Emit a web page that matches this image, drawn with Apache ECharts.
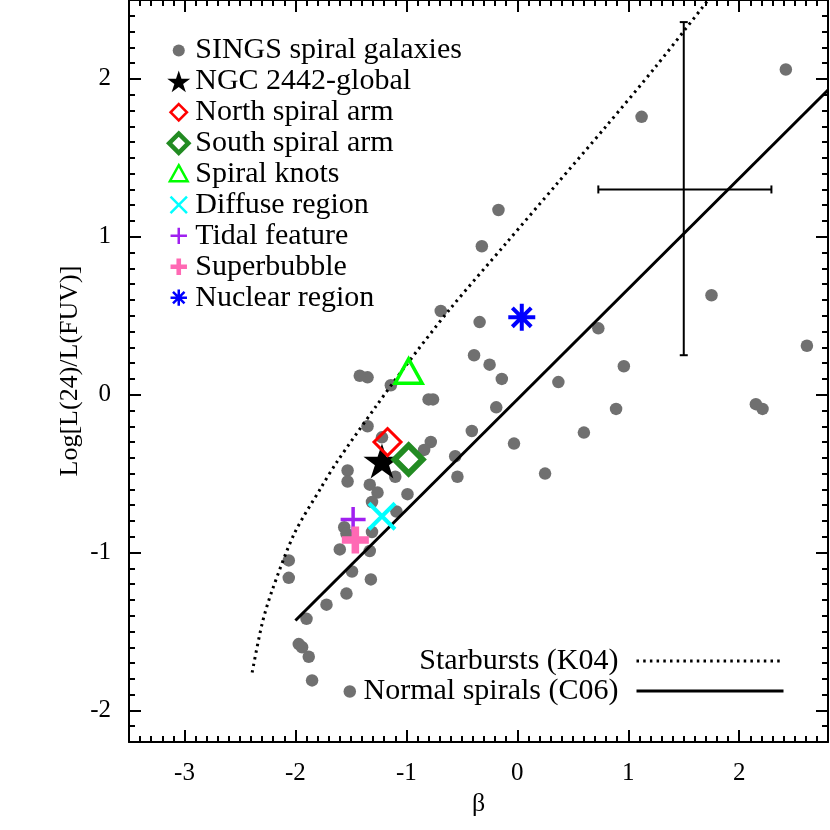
<!DOCTYPE html>
<html>
<head>
<meta charset="utf-8">
<script src="https://cdn.jsdelivr.net/npm/echarts@6/dist/echarts.min.js"></script>
<style>
  html, body { margin: 0; padding: 0; background: #fff; }
  #chart { width: 830px; height: 830px; }
</style>
</head>
<body>
<div id="chart"></div>
<script>
// SINGS spiral galaxies (beta, log L24/LFUV)
const singsX = [2.42, 1.12, 1.75, 2.61, -0.17, -0.32, 0.73, 0.96, 2.15, 2.21,
  0.89, 0.60, 0.37, 0.25, -0.03, -0.14, -0.19, -0.25, -0.34, -0.39,
  -0.41, -0.54, -0.56, -0.69, -0.80, -0.76, -0.78, -0.84, -0.99, -1.10,
  -1.09, -1.14, -1.35, -1.42, -1.35, -1.22, -1.53, -1.53, -1.33, -1.26,
  -1.31, -1.56, -1.54, -1.31, -1.60, -1.33, -1.49, -1.32, -2.06, -2.06,
  -1.54, -1.72, -1.90, -1.97, -1.94, -1.88, -1.85, -1.51];
const singsY = [2.06, 1.76, 0.63, 0.31, 1.17, 0.94, 0.42, 0.18, -0.06, -0.09,
  -0.09, -0.24, 0.08, -0.50, -0.31, 0.10, -0.08, 0.19, 0.46, 0.25,
  -0.23, -0.52, -0.39, 0.53, -0.03, -0.03, -0.30, -0.35, -0.63, -0.52,
  -0.74, 0.06, 0.11, 0.12, -0.20, -0.27, -0.48, -0.55, -0.57, -0.62,
  -0.68, -0.84, -0.88, -0.87, -0.98, -0.99, -1.12, -1.17, -1.05, -1.16,
  -1.26, -1.33, -1.42, -1.58, -1.60, -1.66, -1.81, -1.88];

// relations
const k04X = [-2.39, -2.30, -2.21, -2.01, -1.77, -1.63, -1.27, -1.02, -0.61, -0.10, 0.35, 0.80, 1.25, 1.72];
const k04Y = [-1.76, -1.45, -1.24, -0.88, -0.59, -0.43, -0.07, 0.17, 0.54, 0.96, 1.33, 1.70, 2.08, 2.50];
const c06X = [-2.0, 2.8];
const c06Y = [-1.43, 1.93];

// NGC 2442 regions
const globalPt = [-1.22, -0.42];
const northPt = [-1.17, -0.30];
const southPt = [-0.98, -0.41];
const knotsPt = [-0.98, 0.15];
const diffusePt = [-1.22, -0.77];
const tidalPt = [-1.48, -0.79];
const bubblePt = [-1.46, -0.92];
const nuclearPt = [0.04, 0.49];

// typical error: [centre, low, high]
const errX = [1.5, 0.73, 2.29];
const errY = [1.3, 0.25, 2.36];

const majorX = [-3, -2, -1, 0, 1, 2];
const majorY = [-2, -1, 0, 1, 2];
const minorX = [];
for (let i = -35; i <= 28; i++) minorX.push(i / 10);
const minorY = [];
for (let i = -22; i <= 25; i++) minorY.push(i / 10);

const FONT = 'Liberation Serif';
const GRAY = '#707070';

const zip = (xs, ys) => xs.map((x, i) => [x, ys[i]]);

// symbol shapes
const STAR = 'M0,-10L2.25,-3.09L9.51,-3.09L3.63,1.18L5.88,8.09L0,3.82L-5.88,8.09L-3.63,1.18L-9.51,-3.09L-2.25,-3.09Z';
const CROSS = 'M-10,-10L10,10M-10,10L10,-10';
const PLUS = 'M0,-10L0,10M-10,0L10,0';
const FATPLUS = 'M-2.8,-10H2.8V-2.8H10V2.8H2.8V10H-2.8V2.8H-10V-2.8H-2.8Z';
const ASTER = 'M0,-10L0,10M-10,0L10,0M-7,-7L7,7M-7,7L7,-7';
const DIAMOND = 'M0,-10L10,0L0,10L-10,0Z';
const TRI = 'M0,-10L10,8L-10,8Z';
const DOT = 'M0,-10A10,10,0,1,1,0,10A10,10,0,1,1,0,-10Z';
// legend icons are drawn in a 23px box; pad to keep a smaller shape
const pad = (p, r) => 'path://M' + (-r) + ',' + (-r) + 'M' + r + ',' + r + p;

function marker(name, pt, symbol, size, style) {
  return {
    name, type: 'scatter', data: [pt], symbol, symbolSize: size,
    symbolKeepAspect: true, z: 6, silent: true,
    itemStyle: Object.assign({ opacity: 1 }, style),
  };
}

function axis(min, max, pos, ticks, len, main) {
  return {
    type: 'value', min, max, position: pos,
    splitLine: { show: false },
    axisLine: { show: main, onZero: false, lineStyle: { color: '#000', width: 2 } },
    axisTick: { show: true, inside: true, length: len, customValues: ticks, lineStyle: { color: '#000', width: 2 } },
    axisLabel: { show: false },
  };
}

const xBottom = axis(-3.5, 2.8, 'bottom', majorX, 12, true);
xBottom.axisLabel = { show: true, customValues: majorX, margin: 19, fontSize: 25, fontFamily: FONT, color: '#000' };
xBottom.name = 'β';
xBottom.nameLocation = 'middle';
xBottom.nameGap = 44;
xBottom.nameTextStyle = { fontSize: 26, fontFamily: FONT, color: '#000' };

const yLeft = axis(-2.2, 2.5, 'left', majorY, 12, true);
yLeft.axisLabel = { show: true, customValues: majorY, margin: 18, fontSize: 25, fontFamily: FONT, color: '#000' };
yLeft.name = 'Log[L(24)/L(FUV)]';
yLeft.nameLocation = 'middle';
yLeft.nameRotate = 90;
yLeft.nameGap = 46;
yLeft.nameMoveOverlap = false;
yLeft.nameTextStyle = { fontSize: 26, fontFamily: FONT, color: '#000' };

const chart = echarts.init(document.getElementById('chart'));
chart.setOption({
  animation: false,
  backgroundColor: '#fff',
  grid: { left: 129, top: 0, width: 699, height: 742 },
  xAxis: [
    xBottom,
    axis(-3.5, 2.8, 'top', majorX, 12, true),
    axis(-3.5, 2.8, 'bottom', minorX, 6, false),
    axis(-3.5, 2.8, 'top', minorX, 6, false),
  ],
  yAxis: [
    yLeft,
    axis(-2.2, 2.5, 'right', majorY, 12, true),
    axis(-2.2, 2.5, 'left', minorY, 6, false),
    axis(-2.2, 2.5, 'right', minorY, 6, false),
  ],
  legend: [
    {
      orient: 'vertical', left: 160, top: 30,
      itemWidth: 23, itemHeight: 23, itemGap: 0,
      selectedMode: false,
      textStyle: { fontSize: 30, lineHeight: 30.9, fontFamily: FONT, color: '#000' },
      data: [
        { name: 'SINGS spiral galaxies', icon: pad(DOT, 19), itemStyle: { color: GRAY, borderWidth: 0 } },
        { name: 'NGC 2442-global', icon: 'path://' + STAR, itemStyle: { color: '#000', borderWidth: 0 } },
        { name: 'North spiral arm', icon: pad(DIAMOND, 14), itemStyle: { color: 'transparent', borderColor: '#ff0000', borderWidth: 2.5 } },
        { name: 'South spiral arm', icon: pad(DIAMOND, 12), itemStyle: { color: 'transparent', borderColor: '#228b22', borderWidth: 4.5 } },
        { name: 'Spiral knots', icon: pad(TRI, 13), itemStyle: { color: 'transparent', borderColor: '#00ff00', borderWidth: 2.5 } },
        { name: 'Diffuse region', icon: pad(CROSS, 14), itemStyle: { color: 'transparent', borderColor: '#00ffff', borderWidth: 2.5 } },
        { name: 'Tidal feature', icon: pad(PLUS, 14), itemStyle: { color: 'transparent', borderColor: '#a020f0', borderWidth: 2.5 } },
        { name: 'Superbubble', icon: pad(FATPLUS, 14), itemStyle: { color: '#ff69b4', borderWidth: 0 } },
        { name: 'Nuclear region', icon: pad(ASTER, 14), itemStyle: { color: 'transparent', borderColor: '#0000ff', borderWidth: 2.5 } },
      ],
    },
    {
      orient: 'vertical', right: 40, top: 641, align: 'right',
      itemWidth: 147, itemHeight: 10, itemGap: 0,
      selectedMode: false,
      textStyle: { fontSize: 30, lineHeight: 30, fontFamily: FONT, color: '#000', padding: [0, 13, 0, 0] },
      data: [
        { name: 'Starbursts (K04)', itemStyle: { opacity: 0 }, lineStyle: { color: '#000', width: 3, type: [2.5, 4.2] } },
        { name: 'Normal spirals (C06)', itemStyle: { opacity: 0 }, lineStyle: { color: '#000', width: 3, type: 'solid' } },
      ],
    },
  ],
  series: [
    {
      name: 'SINGS spiral galaxies', type: 'scatter', data: zip(singsX, singsY),
      symbol: 'circle', symbolSize: 12.5, silent: true, z: 2,
      itemStyle: { color: GRAY, opacity: 1 },
    },
    {
      name: 'Starbursts (K04)', type: 'line', data: zip(k04X, k04Y),
      smooth: 0.3,
      symbol: 'none', silent: true, z: 3,
      lineStyle: { color: '#000', width: 3, type: [2.5, 4.2] },
    },
    {
      name: 'Normal spirals (C06)', type: 'line', data: zip(c06X, c06Y),
      symbol: 'none', silent: true, z: 3,
      lineStyle: { color: '#000', width: 3 },
    },
    {
      name: 'error', type: 'custom', silent: true, z: 4,
      data: [[errX[0], errY[0], errX[1], errX[2], errY[1], errY[2]]],
      encode: { x: [0, 2, 3], y: [1, 4, 5] },
      renderItem(params, api) {
        const l = api.coord([api.value(2), api.value(1)]);
        const r = api.coord([api.value(3), api.value(1)]);
        const b = api.coord([api.value(0), api.value(4)]);
        const t = api.coord([api.value(0), api.value(5)]);
        const cap = 4;
        const style = { stroke: '#000', lineWidth: 2 };
        const seg = (x1, y1, x2, y2) => ({ type: 'line', shape: { x1, y1, x2, y2 }, style });
        return {
          type: 'group',
          children: [
            seg(l[0], l[1], r[0], r[1]),
            seg(l[0], l[1] - cap, l[0], l[1] + cap),
            seg(r[0], r[1] - cap, r[0], r[1] + cap),
            seg(b[0], b[1], t[0], t[1]),
            seg(b[0] - cap, b[1], b[0] + cap, b[1]),
            seg(t[0] - cap, t[1], t[0] + cap, t[1]),
          ],
        };
      },
    },
    marker('NGC 2442-global', globalPt, 'path://' + STAR, 37, { color: '#000' }),
    marker('North spiral arm', northPt, 'path://' + DIAMOND, 27, { color: 'transparent', borderColor: '#ff0000', borderWidth: 3 }),
    marker('South spiral arm', southPt, 'path://' + DIAMOND, 28, { color: 'transparent', borderColor: '#228b22', borderWidth: 6 }),
    marker('Spiral knots', knotsPt, 'path://' + TRI, 27, { color: 'transparent', borderColor: '#00ff00', borderWidth: 3.5 }),
    marker('Diffuse region', diffusePt, 'path://' + CROSS, 26, { color: 'transparent', borderColor: '#00ffff', borderWidth: 4 }),
    marker('Tidal feature', tidalPt, 'path://' + PLUS, 25, { color: 'transparent', borderColor: '#a020f0', borderWidth: 3.5 }),
    marker('Superbubble', bubblePt, 'path://' + FATPLUS, 27, { color: '#ff69b4' }),
    marker('Nuclear region', nuclearPt, 'path://' + ASTER, 27, { color: 'transparent', borderColor: '#0000ff', borderWidth: 4 }),
  ],
});
</script>
</body>
</html>
